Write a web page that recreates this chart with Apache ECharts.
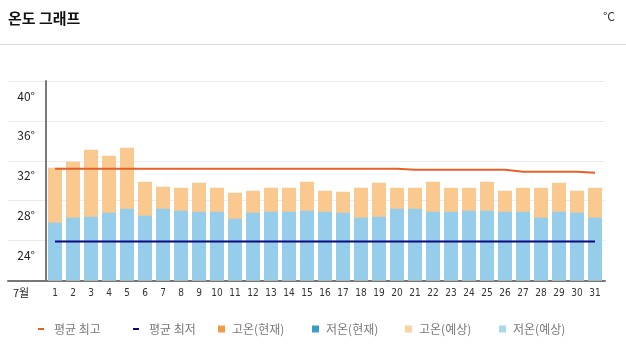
<!DOCTYPE html>
<html><head><meta charset="utf-8">
<script src="https://cdn.jsdelivr.net/npm/echarts@6/dist/echarts.min.js"></script>
<style>html,body{margin:0;padding:0;background:#fff}#c{width:626px;height:354px}</style>
</head><body><div id="c"></div>
<script>
const days = ['1','2','3','4','5','6','7','8','9','10','11','12','13','14','15','16','17','18','19','20','21','22','23','24','25','26','27','28','29','30','31'];
const highForecast = [31.3,31.9,33.1,32.5,33.3,29.9,29.4,29.3,29.8,29.3,28.8,29.0,29.3,29.3,29.9,29.0,28.9,29.3,29.8,29.3,29.3,29.9,29.3,29.3,29.9,29.0,29.3,29.3,29.8,29.0,29.3];
const lowForecast = [25.8,26.3,26.4,26.8,27.2,26.5,27.2,27.0,26.9,26.9,26.2,26.8,26.9,26.9,27.0,26.9,26.8,26.3,26.4,27.2,27.2,26.9,26.9,27.0,27.0,26.9,26.9,26.3,26.9,26.8,26.3];
const avgHigh = [31.2,31.2,31.2,31.2,31.2,31.2,31.2,31.2,31.2,31.2,31.2,31.2,31.2,31.2,31.2,31.2,31.2,31.2,31.2,31.2,31.1,31.1,31.1,31.1,31.1,31.1,30.9,30.9,30.9,30.9,30.8];
const avgLow = [23.9,23.9,23.9,23.9,23.9,23.9,23.9,23.9,23.9,23.9,23.9,23.9,23.9,23.9,23.9,23.9,23.9,23.9,23.9,23.9,23.9,23.9,23.9,23.9,23.9,23.9,23.9,23.9,23.9,23.9,23.9];
const highCurrent = [];
const lowCurrent = [];
const yMin = 20, yMax = 40, yStep = 4;
const monthLabel = '7월';
const title = '온도 그래프';
const unit = '°C';
const names = ['평균 최고','평균 최저','고온(현재)','저온(현재)','고온(예상)','저온(예상)'];

const C = {
  avgHigh:'#e4612b', avgLow:'#0b0b80', hiCur:'#f39a4b', loCur:'#3a9dc9', hiFc:'#f9c990', loFc:'#95cdea'
};
const FONT = '"Noto Sans CJK KR", "Noto Sans", sans-serif';

const chart = echarts.init(document.getElementById('c'), null, {renderer:'canvas'});

function lg(name, left, isLine, color) {
  return {
    left: left, top: 318, orient:'horizontal',
    itemWidth: isLine ? 11 : 9, itemHeight: isLine ? 2 : 7,
    itemStyle: {borderWidth: 0},
    textStyle: {color:'#7a7a7a', fontSize:12, fontFamily: FONT},
    data: [{name: name,
            icon: isLine ? 'path://M0,0h6v2h-6z M11,0L11,0' : 'path://M0,0h7v7h-7z M9,0L9,0',
            itemStyle: {color: color, borderWidth:0}}],
    selectedMode: false
  };
}

chart.setOption({
  animation: false,
  textStyle: {fontFamily: FONT},
  graphic: [
    {type:'text', left:8, top:11, style:{text:title, font:'bold 15px ' + FONT, fill:'#111'}},
    {type:'text', right:11, top:10, style:{text:unit, font:'12px ' + FONT, fill:'#333'}},
    {type:'line', shape:{x1:0, y1:44.5, x2:626, y2:44.5}, style:{stroke:'#dcdcdc', lineWidth:1}},
    {type:'text', left:13, top:287, style:{text:monthLabel, font:'11px ' + FONT, fill:'#222'}}
  ],
  legend: [
    lg(names[0], 33, true, C.avgHigh),
    lg(names[1], 128, true, C.avgLow),
    lg(names[2], 213, false, C.hiCur),
    lg(names[3], 307, false, C.loCur),
    lg(names[4], 400, false, '#fbd2a6'),
    lg(names[5], 494, false, '#a9d7ec')
  ],
  grid: [
    {left:8, right:21, top:81, bottom:73.5},
    {left:46, right:22, top:81, bottom:73.5}
  ],
  xAxis: [
    {gridIndex:0, type:'value', min:0, max:1, show:true,
     axisLine:{show:true, onZero:false, lineStyle:{color:'#777', width:2}},
     axisTick:{show:false}, axisLabel:{show:false}, splitLine:{show:false}},
    {gridIndex:1, type:'category', data:days,
     axisLine:{show:false}, axisTick:{show:false},
     axisLabel:{color:'#333', fontSize:10, margin:8, fontFamily:'"Liberation Sans Narrow", "DejaVu Sans Condensed", sans-serif', interval:0}}
  ],
  yAxis: [
    {gridIndex:0, type:'value', min:yMin, max:yMax, interval:yStep,
     axisLine:{show:false}, axisTick:{show:false}, axisLabel:{show:false},
     splitLine:{show:true, lineStyle:{color:'#ececf0', width:1}}},
    {gridIndex:1, type:'value', min:yMin, max:yMax, interval:yStep,
     axisLine:{show:true, lineStyle:{color:'#7a7a7a', width:2}}, axisTick:{show:false},
     splitLine:{show:false},
     axisLabel:{color:'#222', fontSize:12, margin:11, verticalAlign:'top', lineHeight:14, padding:[8,0,0,0],
       formatter: v => v === yMin ? '' : v + '°'}}
  ],
  series: [
    {name:names[2], type:'bar', xAxisIndex:1, yAxisIndex:1, data:highCurrent, barWidth:14, barGap:'-100%', itemStyle:{color:C.hiCur}},
    {name:names[3], type:'bar', xAxisIndex:1, yAxisIndex:1, data:lowCurrent, barWidth:14, barGap:'-100%', itemStyle:{color:C.loCur}},
    {name:names[4], type:'bar', xAxisIndex:1, yAxisIndex:1, data:highForecast, barWidth:14, barGap:'-100%', itemStyle:{color:C.hiFc}},
    {name:names[5], type:'bar', xAxisIndex:1, yAxisIndex:1, data:lowForecast, barWidth:14, barGap:'-100%', itemStyle:{color:C.loFc}},
    {name:names[0], type:'line', xAxisIndex:1, yAxisIndex:1, data:avgHigh, symbol:'none', lineStyle:{color:C.avgHigh, width:2}, itemStyle:{color:C.avgHigh}, z:5},
    {name:names[1], type:'line', xAxisIndex:1, yAxisIndex:1, data:avgLow, symbol:'none', lineStyle:{color:C.avgLow, width:2}, itemStyle:{color:C.avgLow}, z:5}
  ]
});
</script>
</body></html>
